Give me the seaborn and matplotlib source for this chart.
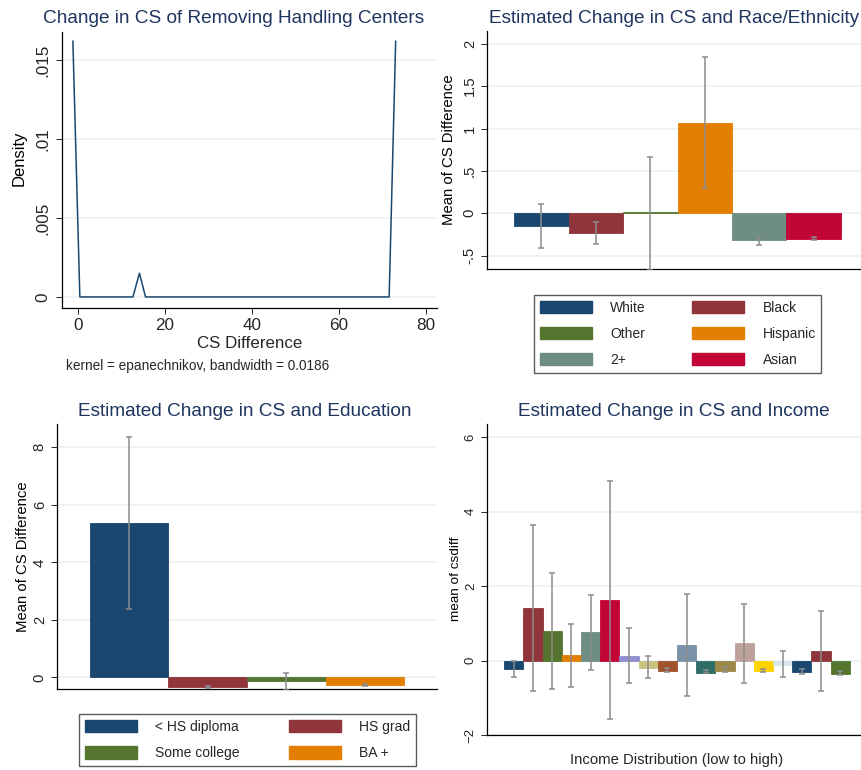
import numpy as np
import pandas as pd
import matplotlib
matplotlib.use("Agg")
import matplotlib.pyplot as plt
from matplotlib.patches import Patch
import seaborn as sns

# ---------------- data ----------------
# kernel density of the CS difference (evaluation points and density)
kd_x = [-1.2, 0.4, 12.6, 14.1, 15.5, 71.5, 73.0]
kd_y = [0.0162, 0.0, 0.0, 0.0015, 0.0, 0.0, 0.0162]

race_labels = ["White", "Black", "Other", "Hispanic", "2+", "Asian"]
race_mean = [-0.15, -0.23, 0.01, 1.07, -0.32, -0.30]
race_lo = [-0.41, -0.36, -0.67, 0.30, -0.37, -0.32]
race_hi = [0.11, -0.10, 0.66, 1.84, -0.28, -0.28]

edu_labels = ["< HS diploma", "HS grad", "Some college", "BA +"]
edu_mean = [5.37, -0.33, -0.12, -0.26]
edu_lo = [2.37, -0.36, -0.42, -0.28]
edu_hi = [8.35, -0.31, 0.16, -0.24]

inc_labels = [str(i) for i in range(1, 19)]
inc_mean = [-0.24, 1.41, 0.80, 0.15, 0.77, 1.63, 0.13, -0.19, -0.27, 0.42,
            -0.33, -0.28, 0.47, -0.28, -0.12, -0.30, 0.26, -0.36]
inc_lo = [-0.45, -0.83, -0.76, -0.71, -0.25, -1.57, -0.61, -0.46, -0.31, -0.96,
          -0.34, -0.31, -0.61, -0.30, -0.45, -0.35, -0.83, -0.40]
inc_hi = [-0.01, 3.65, 2.34, 0.99, 1.76, 4.83, 0.86, 0.11, -0.21, 1.79,
          -0.26, -0.18, 1.52, -0.23, 0.25, -0.23, 1.34, -0.28]

# Stata s2color palette
s2 = ["#1a476f", "#90353b", "#55752f", "#e37e00", "#6e8e84", "#c10534",
      "#938dd2", "#cac27e", "#a0522d", "#7b92a8", "#2d6d66", "#9c8847",
      "#bfa19c", "#ffd200", "#d9e6eb"]

# ---------------- style ----------------
sns.set_theme(style="white")
plt.rcParams["font.family"] = ["Liberation Sans", "DejaVu Sans"]
plt.rcParams["axes.edgecolor"] = "#000000"
plt.rcParams["axes.linewidth"] = 0.9

TITLE_C = "#1e3560"
GRID_C = "#e9f0f2"
ERR_C = "#8c8c8c"

W, H = 862, 770
fig = plt.figure(figsize=(W / 100, H / 100), dpi=100)
fig.patch.set_facecolor("white")


def px_axes(l, t, r, b):
    return fig.add_axes([l / W, 1 - b / H, (r - l) / W, (b - t) / H])


def style_axes(ax, tick_fs, pad=3.0, xticks=False):
    for s in ["top", "right"]:
        ax.spines[s].set_visible(False)
    ax.tick_params(axis="y", which="major", direction="out", length=4.3,
                   width=0.7, color="#222222", labelsize=tick_fs, pad=pad,
                   left=True, labelrotation=90)
    for lab in ax.get_yticklabels():
        lab.set_va("center")
    if xticks:
        ax.tick_params(axis="x", which="major", direction="out", length=4.3,
                       width=0.7, color="#222222", labelsize=tick_fs, pad=3,
                       bottom=True)
    else:
        ax.tick_params(axis="x", bottom=False, labelbottom=False)
    ax.yaxis.grid(True, color=GRID_C, linewidth=1.1)
    ax.xaxis.grid(False)
    ax.set_axisbelow(True)
    ax.set_facecolor("white")


def set_ylabel_px(ax, text, xpix, ypix, fs, box):
    l, t, r, b = box
    ax.set_ylabel(text, fontsize=fs, color="#000000")
    ax.yaxis.label.set_va("center")
    ax.yaxis.set_label_coords((xpix - l) / (r - l), (b - ypix) / (b - t))


def bar_panel(ax, labels, mean, lo, hi, colors):
    df = pd.DataFrame({"grp": labels, "val": mean})
    sns.barplot(data=df, x="grp", y="val", hue="grp", order=labels,
                hue_order=labels, palette=colors, width=1.0, saturation=1,
                errorbar=None, legend=False, ax=ax, linewidth=0.6)
    for p, c in zip(ax.patches, colors):
        p.set_edgecolor(c)
    pos = np.arange(len(labels))
    m = np.array(mean)
    ax.errorbar(pos, m, yerr=[m - np.array(lo), np.array(hi) - m],
                fmt="none", ecolor=ERR_C, elinewidth=1.1, capsize=2.4,
                capthick=1.1, zorder=5)
    ax.set_xlabel("")


def row_major(items, ncol):
    # legend fills column by column; reorder so entries read across rows
    return [items[i] for c in range(ncol) for i in range(c, len(items), ncol)]


# ---------------- panel 1: kernel density ----------------
b1 = (62, 32, 437, 308)
ax1 = px_axes(*b1)
sns.lineplot(x=kd_x, y=kd_y, ax=ax1, color="#1a476f", linewidth=1.1,
             sort=False, estimator=None)
ax1.set_xlim(-3.7, 82.5)
ax1.set_ylim(-0.0007, 0.01677)
ax1.set_xticks([0, 20, 40, 60, 80])
ax1.set_yticks([0, 0.005, 0.01, 0.015])
ax1.set_yticklabels(["0", ".005", ".01", ".015"])
style_axes(ax1, 12.3, pad=4.0, xticks=True)
ax1.set_xlabel("CS Difference", fontsize=12.2, labelpad=2)
set_ylabel_px(ax1, "Density", 19, 158.5, 12.0, b1)
fig.text(234 / W, 1 - 22.7 / H, "Change in CS of Removing Handling Centers",
         ha="center", va="baseline", fontsize=13.7, color=TITLE_C)
fig.text(66 / W, 1 - 370 / H, "kernel = epanechnikov, bandwidth = 0.0186",
         ha="left", va="baseline", fontsize=9.8)

# ---------------- panel 2: race/ethnicity ----------------
b2 = (487, 31, 868, 269)
ax2 = px_axes(*b2)
bar_panel(ax2, race_labels, race_mean, race_lo, race_hi, s2[:6])
ax2.set_xlim(-1.0, 6.0)
ax2.set_ylim(-0.657, 2.15)
ax2.set_yticks([-0.5, 0, 0.5, 1, 1.5, 2])
ax2.set_yticklabels(["-.5", "0", ".5", "1", "1.5", "2"])
style_axes(ax2, 10.7, pad=3.0)
set_ylabel_px(ax2, "Mean of CS Difference", 449, 149.5, 10.7, b2)
fig.text(859 / W, 1 - 22.7 / H, "Estimated Change in CS and Race/Ethnicity",
         ha="right", va="baseline", fontsize=13.7, color=TITLE_C)

race_handles = [Patch(facecolor=c, edgecolor=c) for c in s2[:6]]
leg2 = fig.legend(row_major(race_handles, 2), row_major(race_labels, 2),
                  ncol=2, loc="upper left",
                  bbox_to_anchor=(534 / W, 1 - 295 / H),
                  fontsize=10, frameon=True, fancybox=False,
                  edgecolor="#333333", handlelength=3.75, handleheight=1.0,
                  handletextpad=1.35, columnspacing=3.3, labelspacing=0.88,
                  borderpad=0.4, borderaxespad=0)
leg2.get_frame().set_linewidth(1.0)

# ---------------- panel 3: education ----------------
b3 = (57, 424, 437, 689)
ax3 = px_axes(*b3)
bar_panel(ax3, edu_labels, edu_mean, edu_lo, edu_hi, s2[:4])
ax3.set_xlim(-0.92, 3.92)
ax3.set_ylim(-0.40, 8.81)
ax3.set_yticks([0, 2, 4, 6, 8])
style_axes(ax3, 10.7, pad=3.0)
set_ylabel_px(ax3, "Mean of CS Difference", 23, 556.7, 10.7, b3)
fig.text(244.5 / W, 1 - 415.7 / H, "Estimated Change in CS and Education",
         ha="center", va="baseline", fontsize=13.7, color=TITLE_C)

edu_handles = [Patch(facecolor=c, edgecolor=c) for c in s2[:4]]
leg3 = fig.legend(row_major(edu_handles, 2), row_major(edu_labels, 2),
                  ncol=2, loc="upper left",
                  bbox_to_anchor=(79 / W, 1 - 714 / H),
                  fontsize=10, frameon=True, fancybox=False,
                  edgecolor="#333333", handlelength=3.75, handleheight=1.0,
                  handletextpad=1.35, columnspacing=3.5, labelspacing=0.9,
                  borderpad=0.4, borderaxespad=0)
leg3.get_frame().set_linewidth(1.0)

# ---------------- panel 4: income ----------------
b4 = (487, 424, 867, 735)
ax4 = px_axes(*b4)
inc_colors = (s2 + s2)[:18]
bar_panel(ax4, inc_labels, inc_mean, inc_lo, inc_hi, inc_colors)
ax4.set_xlim(-1.4, 18.4)
ax4.set_ylim(-2.0, 6.35)
ax4.set_yticks([-2, 0, 2, 4, 6])
style_axes(ax4, 9.5, pad=3.0)
set_ylabel_px(ax4, "mean of csdiff", 455.7, 578.8, 9.7, b4)
fig.text(677 / W, 1 - 764.3 / H, "Income Distribution (low to high)",
         ha="center", va="baseline", fontsize=10.7)
fig.text(674 / W, 1 - 415.7 / H, "Estimated Change in CS and Income",
         ha="center", va="baseline", fontsize=13.7, color=TITLE_C)

fig.savefig("out.png", dpi=100, facecolor="white")
